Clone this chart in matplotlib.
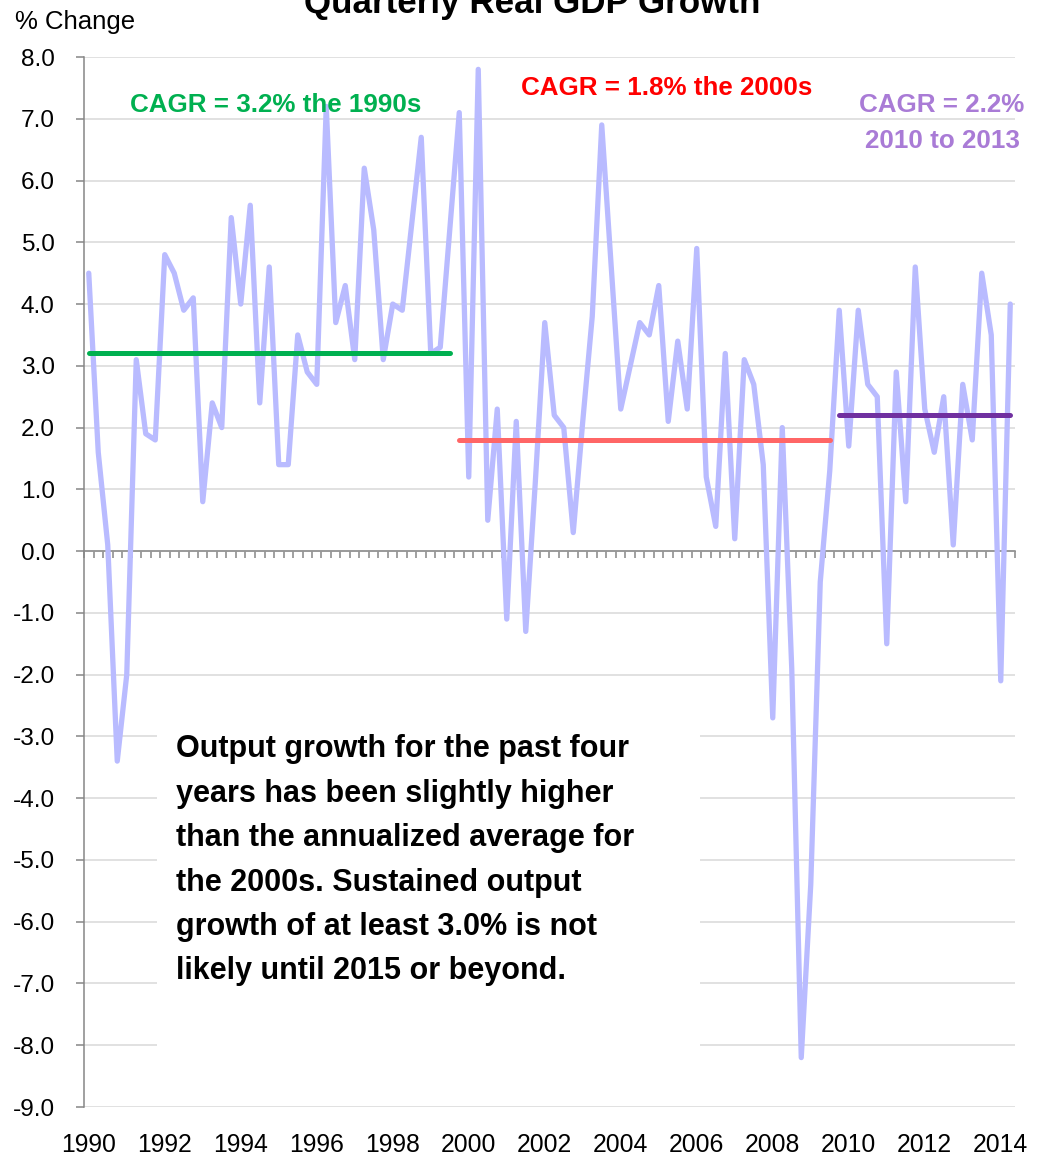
import numpy as np
import matplotlib
matplotlib.use("Agg")
import matplotlib.pyplot as plt
import matplotlib.font_manager as fm
from matplotlib.patches import Rectangle

# quarterly real GDP growth, 1990 Q1 .. 2014 Q2 (% change, annualized)
gdp_1990s = [4.5, 1.6, 0.1, -3.4,  -2.0, 3.1, 1.9, 1.8,  4.8, 4.5, 3.9, 4.1,
             0.8, 2.4, 2.0, 5.4,   4.0, 5.6, 2.4, 4.6,   1.4, 1.4, 3.5, 2.9,
             2.7, 7.2, 3.7, 4.3,   3.1, 6.2, 5.2, 3.1,   4.0, 3.9, 5.3, 6.7,
             3.2, 3.3, 5.2, 7.1]
gdp_2000s = [1.2, 7.8, 0.5, 2.3,  -1.1, 2.1, -1.3, 1.1,  3.7, 2.2, 2.0, 0.3,
             2.1, 3.8, 6.9, 4.6,   2.3, 3.0, 3.7, 3.5,   4.3, 2.1, 3.4, 2.3,
             4.9, 1.2, 0.4, 3.2,   0.2, 3.1, 2.7, 1.4,  -2.7, 2.0, -1.9, -8.2,
             -5.4, -0.5, 1.3, 3.9]
gdp_2010s = [1.7, 3.9, 2.7, 2.5,  -1.5, 2.9, 0.8, 4.6,   2.3, 1.6, 2.5, 0.1,
             2.7, 1.8, 4.5, 3.5,  -2.1, 4.0]
gdp = gdp_1990s + gdp_2000s + gdp_2010s

year_labels = ["1990", "1992", "1994", "1996", "1998", "2000", "2002",
               "2004", "2006", "2008", "2010", "2012", "2014"]

# CAGR reference lines: value, first quarter index, last quarter index
cagr_values = [3.2, 1.8, 2.2]
cagr_start = [0, 39, 79]
cagr_end = [38, 78, 97]
cagr_colors = ["#00B050", "#FF6666", "#7030A0"]

note_lines = ["Output growth for the past four",
              "years has been slightly higher",
              "than the annualized average for",
              "the 2000s. Sustained output",
              "growth of at least 3.0% is not",
              "likely until 2015 or beyond."]


def pick_font():
    # narrow font looks closer to the stretched text of the original
    try:
        fm.findfont(fm.FontProperties(family="Liberation Sans Narrow"),
                    fallback_to_default=False)
        return "Liberation Sans Narrow", 1.15
    except ValueError:
        return "Liberation Sans", 1.0


NARROW, K = pick_font()
plt.rcParams["font.family"] = ["Liberation Sans", "DejaVu Sans"]
plt.rcParams["axes.unicode_minus"] = False

W, H = 1041, 1159
fig = plt.figure(figsize=(W / 100, H / 100), dpi=100)
ax = fig.add_axes([84 / W, 1 - 1107 / H, 931 / W, 1050 / H])

x = np.arange(len(gdp))
ax.plot(x, gdp, color="#B9BBFF", lw=3.8, solid_joinstyle="round",
        solid_capstyle="round", zorder=3)

for val, s, e, c in zip(cagr_values, cagr_start, cagr_end, cagr_colors):
    ax.plot([s, e], [val, val], color=c, lw=3.6, solid_capstyle="round", zorder=4)

# white box behind the note hides part of the gridlines
ax.add_patch(Rectangle((0.0784, 0.0257), 0.5833, 0.350, transform=ax.transAxes,
                       facecolor="white", edgecolor="none", zorder=1))

ax.set_xlim(-0.5, len(gdp) - 0.5)
ax.set_ylim(-9, 8)
ax.set_yticks(np.arange(-9, 9))
ax.set_yticklabels(["%.1f" % v for v in np.arange(-9, 9)])
ax.yaxis.grid(True, color="#D9D9D9", lw=1.1)
ax.set_axisbelow(True)

for side in ["top", "right"]:
    ax.spines[side].set_visible(False)
ax.spines["left"].set_color("#868686")
ax.spines["left"].set_linewidth(1.1)
ax.spines["bottom"].set_position(("data", 0))
ax.spines["bottom"].set_color("#868686")
ax.spines["bottom"].set_linewidth(1.1)
ax.spines["bottom"].set_zorder(2)

ax.tick_params(axis="y", direction="out", length=6, width=1.1, color="#868686",
               pad=15, labelsize=17.6, labelcolor="black")
ax.set_xticks([])
ax.set_xticks(np.arange(-0.5, len(gdp), 1), minor=True)
ax.tick_params(axis="x", which="minor", direction="out", length=5, width=1.1,
               color="#868686", labelbottom=False)

for i, lab in enumerate(year_labels):
    ax.text(i * 8, -0.036, lab, transform=ax.get_xaxis_transform(),
            ha="center", va="center", fontsize=17.8 * K, family=NARROW)

fig.text(532 / W, 1 - 12.7 / H, "Quarterly Real GDP Growth", ha="center",
         va="baseline", fontsize=25.2 * K, fontweight="bold", family=NARROW)
fig.text(15 / W, 1 - 29.3 / H, "% Change", ha="left", va="baseline", fontsize=18.5)

fig.text(130 / W, 1 - 111.7 / H, "CAGR = 3.2% the 1990s", color="#00B050",
         ha="left", va="baseline", fontsize=18.7 * K, fontweight="bold", family=NARROW)
fig.text(521 / W, 1 - 95 / H, "CAGR = 1.8% the 2000s", color="#FF0000",
         ha="left", va="baseline", fontsize=18.7 * K, fontweight="bold", family=NARROW)
fig.text(942 / W, 1 - 111.7 / H, "CAGR = 2.2%", color="#A97BD6",
         ha="center", va="baseline", fontsize=18.7 * K, fontweight="bold", family=NARROW)
fig.text(942 / W, 1 - 148 / H, "2010 to 2013", color="#A97BD6",
         ha="center", va="baseline", fontsize=18.7 * K, fontweight="bold", family=NARROW)

for k, line in enumerate(note_lines):
    fig.text(176 / W, 1 - (757.3 + k * 44.4) / H, line, ha="left", va="baseline",
             fontsize=22 * K, fontweight="bold", family=NARROW)

fig.savefig("out.png", dpi=100)
